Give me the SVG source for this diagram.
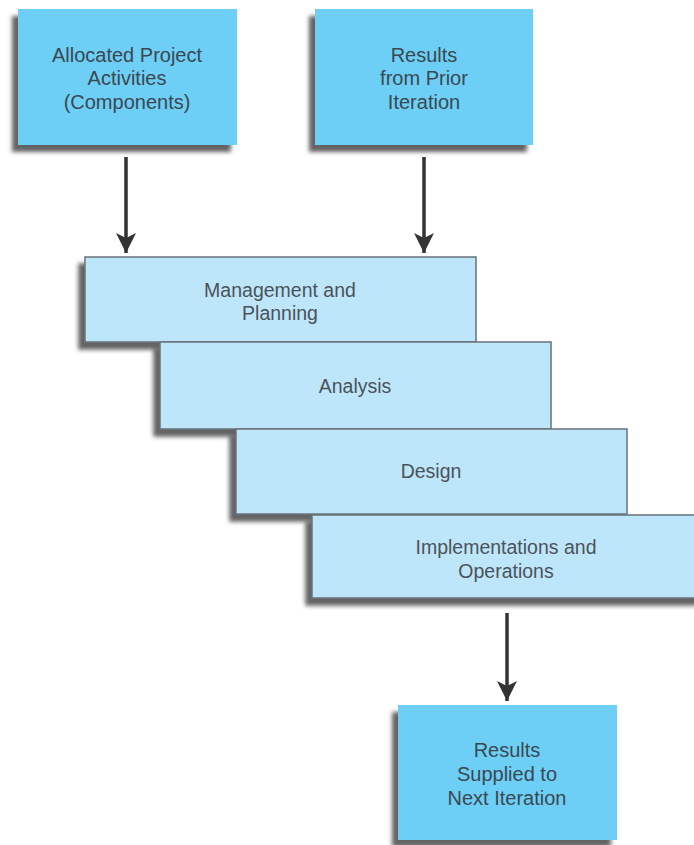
<svg xmlns="http://www.w3.org/2000/svg" width="694" height="845" viewBox="0 0 694 845">
  <defs>
    <filter id="shadow" x="-10%" y="-10%" width="125%" height="130%">
      <feDropShadow dx="-6" dy="7" stdDeviation="2" flood-color="#4a4a4a" flood-opacity="0.85"/>
    </filter>
    <marker id="arrowhead" markerUnits="userSpaceOnUse" markerWidth="20" markerHeight="24" refX="20" refY="10" orient="auto">
      <path d="M0,0 L20,10 L0,20 L5,10 Z" fill="#333333"/>
    </marker>
  </defs>
  <style>
    .outer { fill: #6dcff6; }
    .step { fill: #bee6fa; stroke: #687379; stroke-width: 1.5; }
    .label { font-family: "Liberation Sans", Arial, sans-serif; font-size: 20px; fill: #3b4850; text-anchor: middle; }
    .steplabel { font-family: "Liberation Sans", Arial, sans-serif; font-size: 19.5px; fill: #4b5359; text-anchor: middle; }
    .conn { stroke: #333333; stroke-width: 3.5; fill: none; }
  </style>

  <!-- inputs -->
  <g id="allocated-activities">
    <rect class="outer" x="18" y="9" width="219" height="136" filter="url(#shadow)"/>
    <text class="label" x="127" y="62">Allocated Project</text>
    <text class="label" x="127" y="85">Activities</text>
    <text class="label" x="127" y="109">(Components)</text>
  </g>
  <g id="prior-results">
    <rect class="outer" x="315" y="9" width="218" height="136" filter="url(#shadow)"/>
    <text class="label" x="424" y="62">Results</text>
    <text class="label" x="424" y="85">from Prior</text>
    <text class="label" x="424" y="109">Iteration</text>
  </g>

  <!-- staircase of phases -->
  <g id="management-planning">
    <rect class="step" x="85" y="257" width="391" height="85" filter="url(#shadow)"/>
    <text class="steplabel" x="280" y="297">Management and</text>
    <text class="steplabel" x="280" y="320">Planning</text>
  </g>
  <g id="analysis">
    <rect class="step" x="160" y="342" width="391" height="87" filter="url(#shadow)"/>
    <text class="steplabel" x="355" y="393">Analysis</text>
  </g>
  <g id="design">
    <rect class="step" x="236" y="429" width="391" height="85" filter="url(#shadow)"/>
    <text class="steplabel" x="431" y="478">Design</text>
  </g>
  <g id="implementation-operations">
    <rect class="step" x="312" y="515" width="400" height="83" filter="url(#shadow)"/>
    <text class="steplabel" x="506" y="554">Implementations and</text>
    <text class="steplabel" x="506" y="578">Operations</text>
  </g>

  <!-- output -->
  <g id="next-iteration">
    <rect class="outer" x="398" y="705" width="219" height="135" filter="url(#shadow)"/>
    <text class="label" x="507" y="757">Results</text>
    <text class="label" x="507" y="781">Supplied to</text>
    <text class="label" x="507" y="805">Next Iteration</text>
  </g>

  <g id="connectors">
    <line class="conn" x1="126" y1="157" x2="126" y2="253" marker-end="url(#arrowhead)"/>
    <line class="conn" x1="424" y1="157" x2="424" y2="253" marker-end="url(#arrowhead)"/>
    <line class="conn" x1="507" y1="613" x2="507" y2="701" marker-end="url(#arrowhead)"/>
  </g>
</svg>
